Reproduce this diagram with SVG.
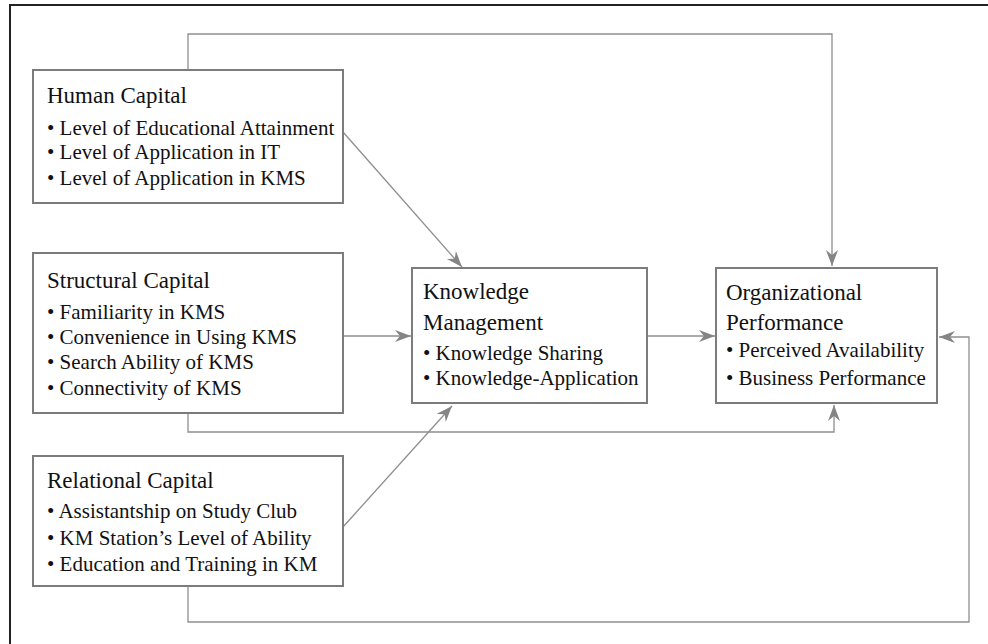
<svg xmlns="http://www.w3.org/2000/svg" width="988" height="644" viewBox="0 0 988 644">
<style>
.box{fill:#fff;stroke:#7c7c7c;stroke-width:2}
.t{font-family:"Liberation Serif","Times New Roman",serif;font-size:23px;fill:#111}
.b{font-family:"Liberation Serif","Times New Roman",serif;font-size:21px;fill:#111}
.c{fill:none;stroke:#8e8e8e;stroke-width:1.3}
</style>
<defs>
<marker id="ah" markerUnits="userSpaceOnUse" markerWidth="18" markerHeight="14" refX="16" refY="6" orient="auto">
<path d="M0,0 L16,6 L0,12 L5,6 Z" fill="#858585"/>
</marker>
</defs>
<rect x="0" y="0" width="988" height="644" fill="#fff"/>
<path d="M10,644 V5 H988" fill="none" stroke="#222" stroke-width="2"/>
<g id="connectors">
<path class="c" d="M188,70 V34 H832 V266" marker-end="url(#ah)"/>
<path class="c" d="M343,132 L462,267" marker-end="url(#ah)"/>
<path class="c" d="M343,336 H411" marker-end="url(#ah)"/>
<path class="c" d="M188,413 V432 H834 V405" marker-end="url(#ah)"/>
<path class="c" d="M343,527 L452,406" marker-end="url(#ah)"/>
<path class="c" d="M188,586 V622 H969 V337 H939" marker-end="url(#ah)"/>
<path class="c" d="M647,336 H715" marker-end="url(#ah)"/>
</g>
<g id="human-capital">
<rect class="box" x="33" y="70" width="310" height="133"/>
<text class="t" x="47" y="103">Human Capital</text>
<text class="b" x="47" y="135">• Level of Educational Attainment</text>
<text class="b" x="47" y="159">• Level of Application in IT</text>
<text class="b" x="47" y="185">• Level of Application in KMS</text>
</g>
<g id="structural-capital">
<rect class="box" x="33" y="253" width="310" height="160"/>
<text class="t" x="47" y="288">Structural Capital</text>
<text class="b" x="47" y="319">• Familiarity in KMS</text>
<text class="b" x="47" y="344">• Convenience in Using KMS</text>
<text class="b" x="47" y="369">• Search Ability of KMS</text>
<text class="b" x="47" y="395">• Connectivity of KMS</text>
</g>
<g id="relational-capital">
<rect class="box" x="33" y="456" width="310" height="130"/>
<text class="t" x="47" y="488">Relational Capital</text>
<text class="b" x="47" y="518">• Assistantship on Study Club</text>
<text class="b" x="47" y="545">• KM Station’s Level of Ability</text>
<text class="b" x="47" y="571">• Education and Training in KM</text>
</g>
<g id="knowledge-management">
<rect class="box" x="412" y="268" width="235" height="135"/>
<text class="t" x="423" y="299">Knowledge</text>
<text class="t" x="423" y="330">Management</text>
<text class="b" x="423" y="360">• Knowledge Sharing</text>
<text class="b" x="423" y="385">• Knowledge-Application</text>
</g>
<g id="organizational-performance">
<rect class="box" x="716" y="268" width="221" height="135"/>
<text class="t" x="726" y="300">Organizational</text>
<text class="t" x="726" y="330">Performance</text>
<text class="b" x="726" y="357">• Perceived Availability</text>
<text class="b" x="726" y="385">• Business Performance</text>
</g>
</svg>
